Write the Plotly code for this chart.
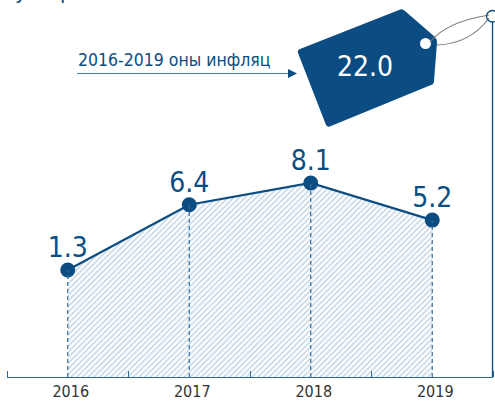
import plotly.graph_objects as go

years = [2016, 2017, 2018, 2019]
values = [1.3, 6.4, 8.1, 5.2]
value_labels = ["1.3", "6.4", "8.1", "5.2"]
year_labels = ["2016", "2017", "2018", "2019"]
tick_edges = [2015.5, 2016.5, 2017.5, 2018.5, 2019.5]
floor_values = [-7.06, -7.06, -7.06, -7.06]
callout_text = "2016-2019 оны инфляц"
total_text = "22.0"
clipped_letters = ["у", "р"]

W, H = 495, 401
ML, MR, MT, MB = 7, 2, 0, 24
BLUE = "#0b4d82"
FONT = "DejaVu Sans Condensed, DejaVu Sans"


def px(x):
    return (x - ML) / (W - ML - MR)


def py(y):
    return 1 - (y - MT) / (H - MT - MB)


def path(points):
    return "M " + " L ".join(f"{px(x):.5f},{py(y):.5f}" for x, y in points) + " Z"


fig = go.Figure()
fig.add_trace(go.Scatter(x=years, y=floor_values, mode="lines",
                         line=dict(width=0), hoverinfo="skip", showlegend=False))
fig.add_trace(go.Scatter(x=years, y=values, mode="lines+markers",
                         line=dict(color=BLUE, width=2.2),
                         marker=dict(color=BLUE, size=15),
                         fill="tonexty", fillcolor="rgba(0,0,0,0)",
                         fillpattern=dict(shape="/", fgcolor="#8fafca", bgcolor="white",
                                          size=4, solidity=0.4),
                         showlegend=False))
fig.add_trace(go.Scatter(x=years, y=values, mode="markers+text",
                         text=value_labels, textposition="top center",
                         textfont=dict(size=28, color=BLUE, family=FONT),
                         marker=dict(color="rgba(0,0,0,0)", size=8),
                         hoverinfo="skip", showlegend=False))

shapes = []
for yr, val, fl in zip(years, values, floor_values):
    shapes.append(dict(type="line", xref="x", yref="y", x0=yr, x1=yr, y0=fl, y1=val,
                       line=dict(color="#2f6c9e", width=1.2, dash="4px,3px"), layer="above"))

p = dict(xref="paper", yref="paper")
# Callout arrow
shapes.append(dict(type="line", x0=px(77), x1=px(289), y0=py(73.5), y1=py(73.5),
                   line=dict(color="#4a7ba6", width=1.2), **p))
shapes.append(dict(type="path", path=path([(288, 69), (297, 73.5), (288, 78)]),
                   fillcolor=BLUE, line=dict(width=0), **p))
# Price tag
tag = ("M {} Q {} {} L {} Q {} {} L {} Q {} {} L {} Q {} {} L {} Q {} {} Z").format(*[
    f"{px(x):.5f},{py(y):.5f}" for x, y in [
        (300, 49), (297, 50), (298, 53),
        (326, 125), (328, 128), (331, 126),
        (431, 85), (434, 84), (434, 81),
        (437, 43), (437, 39), (435, 37),
        (405, 11), (402, 8), (399, 10),
    ]])
shapes.append(dict(type="path", path=tag, fillcolor=BLUE, line=dict(width=0), **p))
shapes.append(dict(type="circle", x0=px(420), x1=px(431), y0=py(49), y1=py(38),
                   fillcolor="white", line=dict(width=0), **p))
# Strings
for s in [f"M {px(430):.5f},{py(42):.5f} Q {px(446):.5f},{py(22):.5f} {px(489):.5f},{py(15):.5f}",
          f"M {px(437):.5f},{py(45):.5f} Q {px(470):.5f},{py(44):.5f} {px(489):.5f},{py(18):.5f}"]:
    shapes.append(dict(type="path", path=s, line=dict(color="#7d7d7d", width=1.1), **p))
# Right axis line and ring
shapes.append(dict(type="line", x0=px(492.5), x1=px(492.5), y0=py(22), y1=py(377),
                   line=dict(color=BLUE, width=1.3), **p))
shapes.append(dict(type="circle", x0=px(486.5), x1=px(498.5), y0=py(22), y1=py(10.5),
                   fillcolor="rgba(255,255,255,0)", line=dict(color=BLUE, width=1.3), **p))

fig.update_layout(
    width=W, height=H, margin=dict(l=ML, r=MR, t=MT, b=MB),
    paper_bgcolor="white", plot_bgcolor="white", shapes=shapes,
    xaxis=dict(range=[2015.5, 2019.5], tickvals=years, ticktext=year_labels,
               ticks="", showgrid=False, zeroline=False, automargin=False,
               showline=True, linecolor="#2f6c9e", linewidth=1.3,
               ticklabelshift=3,
               tickfont=dict(size=16, color="#333333", family=FONT),
               minor=dict(tickvals=tick_edges, ticks="inside", ticklen=6,
                          tickcolor="#2f6c9e", tickwidth=1.2, showgrid=False)),
    yaxis=dict(range=[-7.06, 22.4], visible=False, fixedrange=True, automargin=False),
    annotations=[
        dict(xref="paper", yref="paper", x=px(75.5), y=py(60), xanchor="left", yanchor="middle",
             text=callout_text, showarrow=False,
             font=dict(size=17.5, color=BLUE, family=FONT)),
        dict(xref="paper", yref="paper", x=px(365), y=py(66), xanchor="center", yanchor="middle",
             text=total_text, showarrow=False,
             font=dict(size=28, color="white", family=FONT)),
        dict(xref="paper", yref="paper", x=px(21), y=py(6), xanchor="center", yanchor="bottom",
             text=clipped_letters[0], showarrow=False,
             font=dict(size=22, color=BLUE, family=FONT)),
        dict(xref="paper", yref="paper", x=px(66), y=py(6), xanchor="center", yanchor="bottom",
             text=clipped_letters[1], showarrow=False,
             font=dict(size=22, color=BLUE, family=FONT)),
    ],
)
fig.write_html("out.html", config=dict(displayModeBar=False),
               post_script="document.body.style.margin='0';document.body.style.overflow='hidden';")
